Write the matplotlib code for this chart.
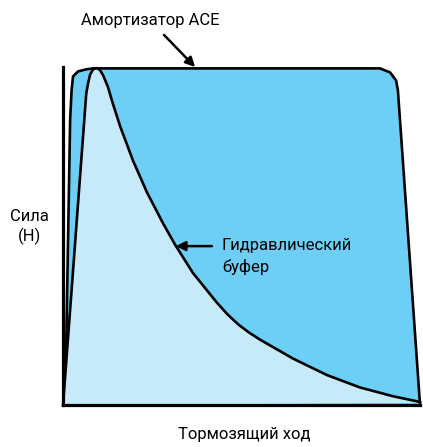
import matplotlib
matplotlib.use("Agg")
import matplotlib.pyplot as plt

plt.rcParams['font.family'] = ['Roboto', 'DejaVu Sans']

# stroke (% of travel) vs force (% of max)
ace_x = [0.6, 2.0, 2.4, 2.8, 4.2, 6.4, 8.4, 88.8, 91.6, 93.3, 93.8, 100.0]
ace_y = [0.0, 85.0, 93.5, 97.6, 99.1, 99.7, 100.0, 100.0, 98.8, 96.4, 93.5, 0.0]

hyd_x = [0.0, 6.5, 7.0, 7.6, 8.4, 9.3, 10.3, 11.2, 12.0, 12.6, 14.0, 16.0,
         19.6, 23.5, 28.0, 31.4, 36.4, 43.1, 46.0, 49.0, 52.0, 55.2, 64.4,
         73.9, 83.2, 92.4, 100.0]
hyd_y = [0.0, 92.5, 95.5, 98.2, 99.7, 100.1, 99.6, 98.0, 96.0, 94.4, 89.4, 82.8,
         72.6, 63.2, 54.0, 47.6, 39.2, 30.4, 27.0, 24.0, 21.6, 19.4, 13.8,
         8.9, 5.2, 2.6, 0.9]

dark = '#6DCFF6'
light = '#C7EAFB'

fig = plt.figure(figsize=(4.23, 4.47), dpi=100)
ax = fig.add_axes([0.149, 0.094, 0.844, 0.756])

ax.fill(ace_x, ace_y, color=dark, zorder=1)
ax.plot(ace_x, ace_y, color='black', lw=1.9, zorder=2,
        solid_joinstyle='round', clip_on=False)
ax.fill(hyd_x, hyd_y, color=light, zorder=3)
ax.plot(hyd_x, hyd_y, color='black', lw=1.9, zorder=4,
        solid_joinstyle='round', clip_on=False)

ax.set_xlim(0, 100)
ax.set_ylim(0, 100.4)
for s in ['top', 'right']:
    ax.spines[s].set_visible(False)
for s in ['left', 'bottom']:
    ax.spines[s].set_linewidth(2.3)
    ax.spines[s].set_zorder(5)
ax.set_xticks([])
ax.set_yticks([])

ax.annotate('Амортизатор ACE', xy=(37, 100.4), xytext=(24.4, 114.2),
            ha='center', va='center', fontsize=12, annotation_clip=False,
            arrowprops=dict(arrowstyle='-|>', color='black', lw=1.8,
                            shrinkA=4, shrinkB=0, mutation_scale=14))
ax.annotate('', xy=(31.6, 47.2), xytext=(41.7, 47.2), annotation_clip=False,
            arrowprops=dict(arrowstyle='-|>', color='black', lw=1.8,
                            shrinkA=0, shrinkB=0, mutation_scale=14))
ax.text(44.5, 44.0, 'Гидравлический\nбуфер', ha='left', va='center',
        fontsize=12, linespacing=1.45)
ax.text(-9.5, 52.8, 'Сила\n(Н)', ha='center', va='center', fontsize=12,
        linespacing=1.3, clip_on=False)
ax.text(50.7, -8.9, 'Тормозящий ход', ha='center', va='center', fontsize=12,
        clip_on=False)

fig.savefig('out.png', dpi=100)
